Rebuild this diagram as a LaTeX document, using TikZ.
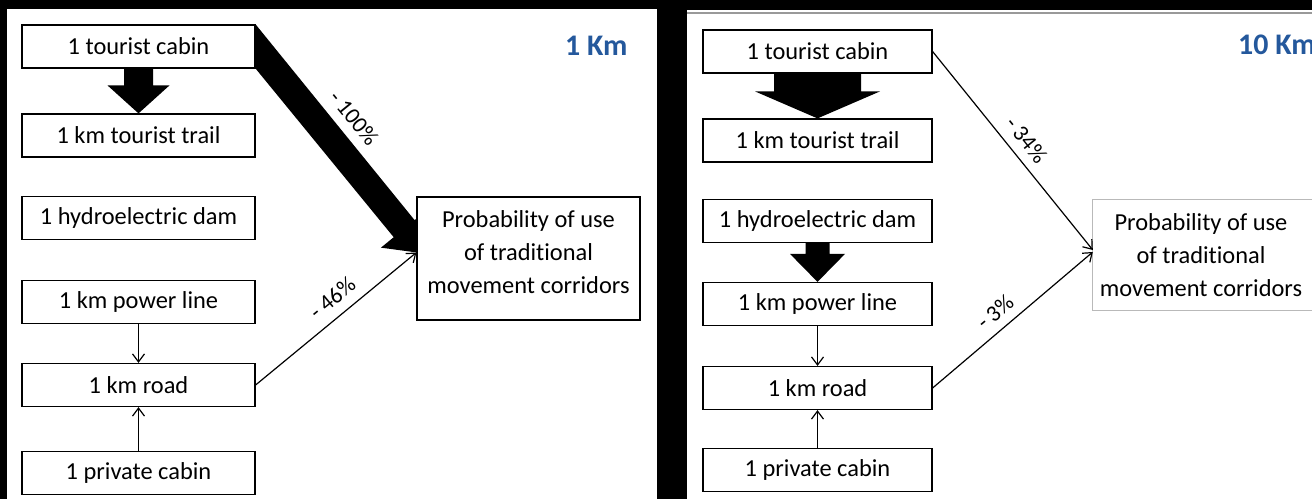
\documentclass[tikz,border=0pt]{standalone}
\usepackage{fontspec}
\setmainfont{Carlito}[Ligatures=NoCommon]
\usetikzlibrary{calc,arrows.meta}
\pgfdeclarelayer{panel}
\pgfdeclarelayer{flow}
\pgfsetlayers{panel,flow,main}
\definecolor{kmblue}{RGB}{36,88,156}
\definecolor{probgray}{RGB}{185,185,185}

% block arrow: start, tip, shaft half width, head half width, head length
\newcommand\flowarrow[5]{%
  \path ($(#2)!#5!(#1)$) coordinate (fa-h);
  \fill ($(#1)!#3!90:(#2)$) -- ($(fa-h)!#3!90:(#2)$) -- ($(fa-h)!#4!90:(#2)$)
    -- (#2) -- ($(fa-h)!#4!-90:(#2)$) -- ($(fa-h)!#3!-90:(#2)$)
    -- ($(#1)!#3!-90:(#2)$) -- cycle;}

\tikzset{
  boxnode/.style={draw=black, line width=1.2bp, fill=white, inner sep=0pt,
    minimum height=43bp, font=\fontsize{24.5}{29}\selectfont},
  lbox/.style={boxnode, minimum width=233bp},
  rbox/.style={boxnode, minimum width=229bp},
  probtext/.style={align=center, inner sep=0pt, font=\fontsize{24.5}{33}\selectfont},
  thinarrow/.style={line width=1.2bp, -{Straight Barb[length=8bp,width=12bp]}},
  pct/.style={font=\fontsize{23}{27}\selectfont, sloped, inner sep=1bp},
  km/.style={font=\fontsize{30}{34}\selectfont\bfseries, text=kmblue, inner sep=0pt, anchor=west},
}

\begin{document}
\begin{tikzpicture}[x=1bp,y=-1bp]
\useasboundingbox (0,0) rectangle (1312,499);
\clip (0,0) rectangle (1312,499);

% two white panels on black
\begin{pgfonlayer}{panel}
  \fill[black] (0,0) rectangle (1312,499);
  \fill[white] (7,9) rectangle (657,499);
  \fill[white] (687,10) rectangle (1312,499);
  \draw[gray!80, line width=1.2bp] (687,13) -- (1312,13);
\end{pgfonlayer}

% ---------- left panel: 1 Km ----------
\node[lbox] (lcab)   at (138.5,46.5) {1 tourist cabin};
\node[lbox] (ltrail) at (138.5,135.5) {1 km tourist trail};
\node[lbox] (ldam)   at (138.5,218) {1 hydroelectric dam};
\node[lbox] (lpow)   at (138.5,302) {1 km power line};
\node[lbox] (lroad)  at (138.5,385) {1 km road};
\node[lbox] (lpriv)  at (138.5,473) {1 private cabin};
\node[draw=black, line width=1.2bp, fill=white, minimum width=223bp,
      minimum height=123bp] (lprob) at (528.5,258.5) {};
\node[probtext] (lprobtext) at ([yshift=6.5bp]lprob.center)
  {Probability of use\\of traditional\\movement corridors};
\node[km] (lkm) at (565,46) {1 Km};

\coordinate (bigtip) at ([xshift=8bp,yshift=5bp]lprob.west);
\begin{pgfonlayer}{flow}
  \flowarrow{lcab.south}{ltrail.north}{14.5bp}{31bp}{28bp}
  \path ($(bigtip)!32bp!(lcab.east)$) coordinate (bighead);
  \fill (lcab.north east) -- ($(bighead)!13.5bp!90:(bigtip)$)
    -- ($(bighead)!30bp!90:(bigtip)$) -- (bigtip)
    -- ($(bighead)!30bp!-90:(bigtip)$) -- ($(bighead)!13.5bp!-90:(bigtip)$)
    -- (lcab.south east) -- cycle;
\end{pgfonlayer}
\path (lcab.east) -- node[pct, above=22bp, pos=0.44] {- 100\%} (bigtip);

\draw[thinarrow] (lpow.south) -- (lroad.north);
\draw[thinarrow] (lpriv.north) -- (lroad.south);
\draw[thinarrow] (lroad.east) -- node[pct, above=9bp, pos=0.55] {- 46\%}
  ([yshift=6bp]lprob.west);

% ---------- right panel: 10 Km ----------
\node[rbox] (rcab)   at (817.5,51.5) {1 tourist cabin};
\node[rbox] (rtrail) at (817.5,140.5) {1 km tourist trail};
\node[rbox] (rdam)   at (817.5,221) {1 hydroelectric dam};
\node[rbox] (rpow)   at (817.5,304) {1 km power line};
\node[rbox] (rroad)  at (817.5,388) {1 km road};
\node[rbox] (rpriv)  at (817.5,470) {1 private cabin};
\node[probtext, minimum width=216bp, minimum height=110bp] (rprob) at (1201,255)
  {Probability of use\\of traditional\\movement corridors};
\draw[probgray, line width=1bp] (rprob.north west) rectangle ([xshift=30bp]rprob.south east);
\node[km] (rkm) at (1238,45) {10 Km};

\begin{pgfonlayer}{flow}
  \flowarrow{rcab.south}{rtrail.north}{43.5bp}{62.5bp}{27bp}
  \flowarrow{rdam.south}{rpow.north}{12bp}{27.5bp}{28bp}
\end{pgfonlayer}

\draw[thinarrow] (rpow.south) -- (rroad.north);
\draw[thinarrow] (rpriv.north) -- (rroad.south);
\draw[thinarrow] (rcab.east) -- node[pct, above=8bp, pos=0.5] {- 34\%}
  ([yshift=5bp]rprob.west);
\draw[thinarrow] (rroad.east) -- node[pct, above=8bp, pos=0.46] {- 3\%}
  ([yshift=3bp]rprob.west);
\end{tikzpicture}
\end{document}
